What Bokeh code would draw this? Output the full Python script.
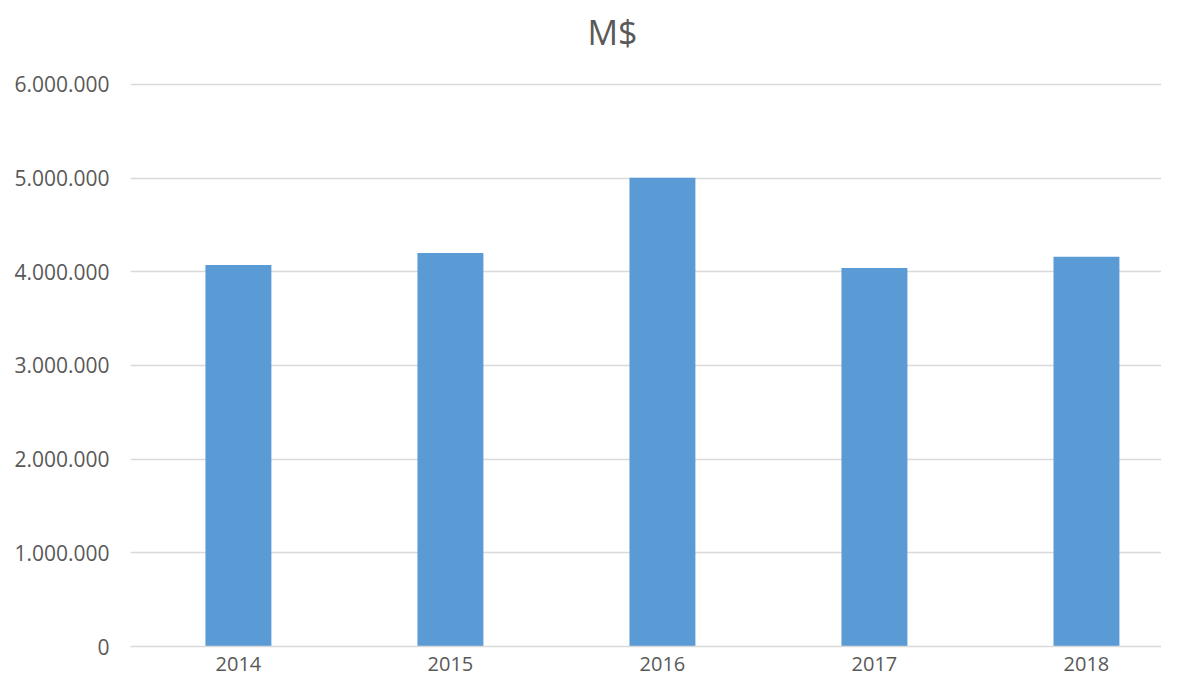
from bokeh.plotting import figure
from bokeh.models import FixedTicker, Range1d, ColumnDataSource, Label
from bokeh.embed import file_html
from bokeh.resources import INLINE

title_text = "M$"
years = ["2014", "2015", "2016", "2017", "2018"]
values = [4074000, 4200000, 5005000, 4040000, 4160000]
y_ticks = [0, 1000000, 2000000, 3000000, 4000000, 5000000, 6000000]
y_tick_labels = ["0", "1.000.000", "2.000.000", "3.000.000", "4.000.000", "5.000.000", "6.000.000"]

xpos = list(range(len(years)))
src = ColumnDataSource(dict(x=xpos, top=values))

FONT = "Open Sans"
TXT = "#595959"

p = figure(width=1161, height=675, output_backend="svg", toolbar_location=None,
           x_range=Range1d(-0.509, 4.354), y_range=Range1d(0, 6843000),
           min_border_left=130, min_border_right=0, min_border_top=5, min_border_bottom=29)
p.outline_line_color = None

p.vbar(x="x", top="top", width=0.311, bottom=0, source=src, color="#5B9BD5", line_color=None)

p.add_layout(Label(x=1.764, y=6555000, text=title_text, text_font=FONT, text_font_size="34px",
                   text_color=TXT, text_align="center", text_baseline="middle"))

p.xaxis.ticker = FixedTicker(ticks=xpos)
p.xaxis.major_label_overrides = {i: y for i, y in zip(xpos, years)}
p.xaxis.major_tick_line_color = None
p.xaxis.minor_tick_line_color = None
p.xaxis.axis_line_color = "#D9D9D9"
p.xaxis.axis_line_width = 1.5
p.xaxis.major_label_text_font = FONT
p.xaxis.major_label_text_font_size = "20px"
p.xaxis.major_label_text_color = TXT
p.xaxis.major_label_standoff = 4
p.xgrid.grid_line_color = None

p.yaxis.ticker = FixedTicker(ticks=y_ticks)
p.yaxis.major_label_overrides = {t: l for t, l in zip(y_ticks, y_tick_labels)}
p.yaxis.major_tick_line_color = None
p.yaxis.minor_tick_line_color = None
p.yaxis.axis_line_color = None
p.yaxis.major_label_text_font = FONT
p.yaxis.major_label_text_font_size = "21px"
p.yaxis.major_label_text_color = TXT
p.yaxis.major_label_standoff = 15
p.ygrid.grid_line_color = "#D9D9D9"
p.ygrid.grid_line_width = 1.5

open("out.html", "w").write(file_html(p, INLINE))
